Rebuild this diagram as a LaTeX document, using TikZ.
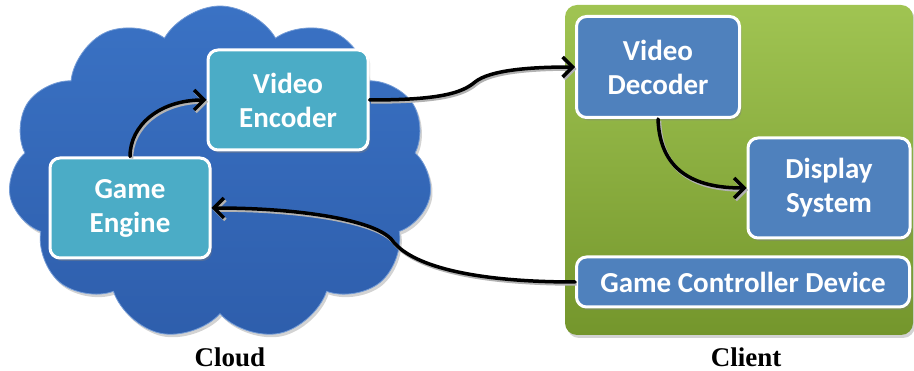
\documentclass[tikz,border=0pt]{standalone}
\usepackage{fontspec}
\newfontfamily\boxfont{Carlito}
\newfontfamily\capfont{Liberation Serif}
\usetikzlibrary{arrows.meta,shadows,shapes.symbols}
\definecolor{cloudblue}{RGB}{58,114,196}
\definecolor{clouddark}{RGB}{46,94,172}
\definecolor{tealbox}{RGB}{75,172,198}
\definecolor{bluebox}{RGB}{79,129,189}
\definecolor{greentop}{RGB}{160,196,82}
\definecolor{greenbot}{RGB}{116,150,44}
\tikzset{
  cloud body/.style={cloud,cloud puffs=11,cloud puff arc=120,cloud ignores aspect,
    top color=cloudblue,bottom color=clouddark,draw=cloudblue!70!white,line width=0.8pt,
    drop shadow={shadow xshift=2pt,shadow yshift=-3pt,opacity=0.35}},
  client panel/.style={rounded corners=12pt,top color=greentop,bottom color=greenbot,
    drop shadow={shadow xshift=2pt,shadow yshift=-3pt,opacity=0.35}},
  unit box/.style={rectangle,rounded corners=10pt,draw=white,line width=3pt,
    text=white,font=\boxfont\bfseries\fontsize{29}{34}\selectfont,align=center,inner sep=0pt,
    drop shadow={shadow xshift=2pt,shadow yshift=-3pt,opacity=0.4}},
  cloud box/.style={unit box,fill=tealbox},
  client box/.style={unit box,fill=bluebox},
  wire/.style={-{Straight Barb[length=10pt,width=20pt]},line width=3.5pt,line cap=round,
    preaction={draw=black!30,line width=3.5pt,transform canvas={shift={(1.5pt,-2pt)}}}},
  side label/.style={font=\capfont\bfseries\fontsize{27}{30}\selectfont},
}

\begin{document}
\begin{tikzpicture}[x=1pt,y=-1pt]
  \useasboundingbox (0,0) rectangle (914,371);
  % cloud side
  \node[cloud body,minimum width=424pt,minimum height=334pt] (cloud) at (220,173) {};
  \node[cloud box,minimum width=160pt,minimum height=100pt] (ve) at (288,100) {Video\\Encoder};
  \node[cloud box,minimum width=160pt,minimum height=100pt] (ge) at (130,208) {Game\\Engine};
  % client side
  \node[client panel,minimum width=348pt,minimum height=330pt] (client) at (739,170) {};
  \node[client box,minimum width=163pt,minimum height=101pt] (vd) at (658,67) {Video\\Decoder};
  \node[client box,minimum width=162pt,minimum height=100pt] (ds) at (829,188) {Display\\System};
  \node[client box,minimum width=333pt,minimum height=50pt] (gc) at (743,282) {Game Controller Device};
  % connectors
  \draw[wire] (ge.north) .. controls (130,125) and (160,100) .. (ve.west);
  \draw[wire] (ve.east) .. controls (440,100) and (462,93) .. (475,82)
    .. controls (490,70) and (530,67) .. (vd.west);
  \draw[wire] (vd.south) .. controls (660,175) and (700,188) .. (ds.west);
  \draw[wire] (gc.west) .. controls (470,282) and (410,265) .. (392,240)
    .. controls (375,220) and (300,208) .. (ge.east);
  % captions
  \node[side label] (cloudcap) at (230,357) {Cloud};
  \node[side label] (clientcap) at (746,357) {Client};
\end{tikzpicture}
\end{document}
